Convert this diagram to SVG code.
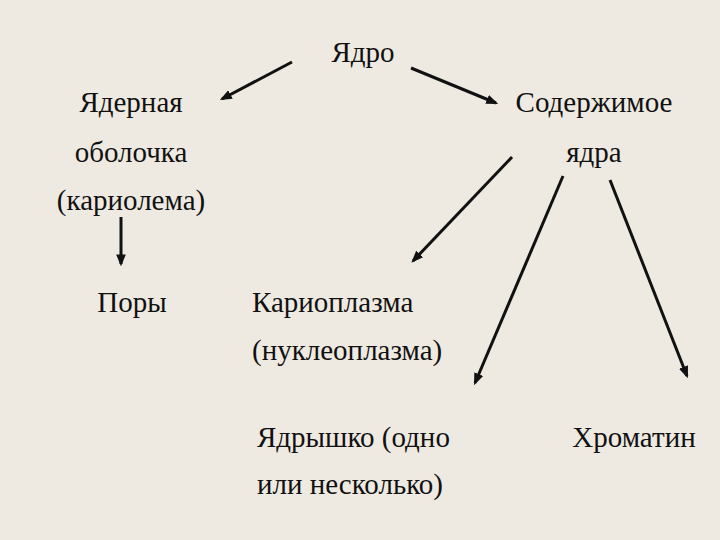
<svg xmlns="http://www.w3.org/2000/svg" width="720" height="540" viewBox="0 0 720 540">
<style>
text{font-family:"Liberation Serif","DejaVu Serif",serif;font-size:29px;fill:#111}
.c{text-anchor:middle}
line{stroke:#111;stroke-width:3;marker-end:url(#a)}
</style>
<defs><marker id="a" viewBox="0 0 10 10" refX="8" refY="5" markerWidth="4" markerHeight="4" orient="auto"><path d="M0,1 L10,5 L0,9 z" fill="#111"/></marker></defs>
<rect width="720" height="540" fill="#EEEAE1"/>
<g id="connectors">
<line x1="292" y1="62" x2="222" y2="99"/>
<line x1="411" y1="68" x2="496" y2="103"/>
<line x1="512" y1="157" x2="413" y2="261"/>
<line x1="563" y1="176" x2="475" y2="383"/>
<line x1="610" y1="180" x2="687" y2="376"/>
<line x1="121" y1="217" x2="121" y2="264"/>
</g>
<g id="n1"><text class="c" x="363" y="62">Ядро</text></g>
<g id="n2"><text class="c" x="131" y="112">Ядерная</text><text class="c" x="131" y="162">оболочка</text><text class="c" x="131" y="210">(кариолема)</text></g>
<g id="n3"><text class="c" x="594" y="112">Содержимое</text><text class="c" x="594" y="162">ядра</text></g>
<g id="n4"><text class="c" x="132" y="312">Поры</text></g>
<g id="n5"><text x="252" y="312">Кариоплазма</text><text x="252" y="360">(нуклеоплазма)</text></g>
<g id="n6"><text x="257" y="447">Ядрышко (одно</text><text x="257" y="494">или несколько)</text></g>
<g id="n7"><text class="c" x="634" y="447">Хроматин</text></g>
</svg>
